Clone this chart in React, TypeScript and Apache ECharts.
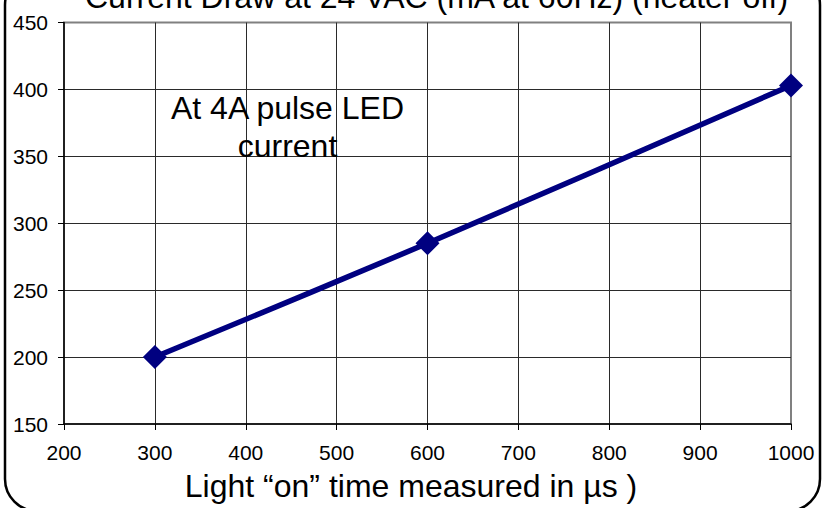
import React, { useEffect, useRef } from "react";
import * as echarts from "echarts";

const onTimeUs = [300, 600, 1000];
const currentMa = [200, 285, 403];
const chartTitle = "Current Draw at 24 VAC (mA at 60Hz) (heater off)";
const xAxisTitle = "Light \u201con\u201d time measured in \u00b5s )";
const noteLines = ["At 4A pulse LED", "current"];

const FONT = "'Liberation Sans', Arial, Helvetica, sans-serif";

export default function App() {
  const ref = useRef<HTMLDivElement>(null);
  useEffect(() => {
    if (!ref.current) return;
    const chart = echarts.init(ref.current, null, { renderer: "svg" });
    chart.setOption({
      animation: false,
      backgroundColor: "#ffffff",
      textStyle: { fontFamily: FONT },
      grid: {
        left: 64,
        right: 36,
        top: 22.5,
        bottom: 84,
        show: true,
        borderColor: "#808080",
        borderWidth: 2,
        backgroundColor: "transparent",
      },
      xAxis: {
        type: "value",
        min: 200,
        max: 1000,
        interval: 100,
        axisLine: { show: true, lineStyle: { color: "#000", width: 1.5 } },
        axisTick: { show: true, length: 6, lineStyle: { color: "#000", width: 1 } },
        axisLabel: {
          color: "#000",
          fontSize: 21,
          fontFamily: FONT,
          margin: 18,
          formatter: (v: number) => String(v),
        },
        splitLine: { show: true, showMinLine: false, showMaxLine: false, lineStyle: { color: "#2a2a2a", width: 1 } },
      },
      yAxis: {
        type: "value",
        min: 150,
        max: 450,
        interval: 50,
        axisLine: { show: true, lineStyle: { color: "#000", width: 1.5 } },
        axisTick: { show: true, length: 6, lineStyle: { color: "#000", width: 1 } },
        axisLabel: {
          color: "#000",
          fontSize: 21,
          fontFamily: FONT,
          margin: 16,
          formatter: (v: number) => String(v),
        },
        splitLine: { show: true, showMinLine: false, showMaxLine: false, lineStyle: { color: "#2a2a2a", width: 1 } },
      },
      series: [
        {
          type: "line",
          data: onTimeUs.map((x, i) => [x, currentMa[i]]),
          smooth: 0.3,
          symbol: "diamond",
          symbolSize: 24,
          showAllSymbol: true,
          lineStyle: { color: "#000080", width: 5.5 },
          itemStyle: { color: "#000080" },
          z: 5,
        },
      ],
      graphic: [
        {
          type: "rect",
          shape: { x: 5, y: -27, width: 815, height: 538, r: 32 },
          style: { fill: "none", stroke: "#000", lineWidth: 2.5 },
          silent: true,
          z: 100,
        },
        {
          type: "text",
          x: 436.5,
          y: -3,
          style: {
            text: chartTitle,
            fontSize: 32,
            fontFamily: FONT,
            fill: "#000",
            align: "center",
            verticalAlign: "middle",
          },
        },
        {
          type: "text",
          x: 287.5,
          y: 108,
          style: {
            text: noteLines[0],
            fontSize: 32,
            fontFamily: FONT,
            fill: "#000",
            align: "center",
            verticalAlign: "middle",
          },
          z: 50,
        },
        {
          type: "text",
          x: 287.5,
          y: 146,
          style: {
            text: noteLines[1],
            fontSize: 32,
            fontFamily: FONT,
            fill: "#000",
            align: "center",
            verticalAlign: "middle",
          },
          z: 50,
        },
        {
          type: "text",
          x: 411,
          y: 486,
          style: {
            text: xAxisTitle,
            fontSize: 32,
            fontFamily: FONT,
            fill: "#000",
            align: "center",
            verticalAlign: "middle",
          },
        },
      ],
    });
    return () => chart.dispose();
  }, []);
  return (
    <div
      ref={ref}
      style={{ position: "fixed", left: 0, top: 0, width: 827, height: 508, background: "#fff" }}
    />
  );
}
